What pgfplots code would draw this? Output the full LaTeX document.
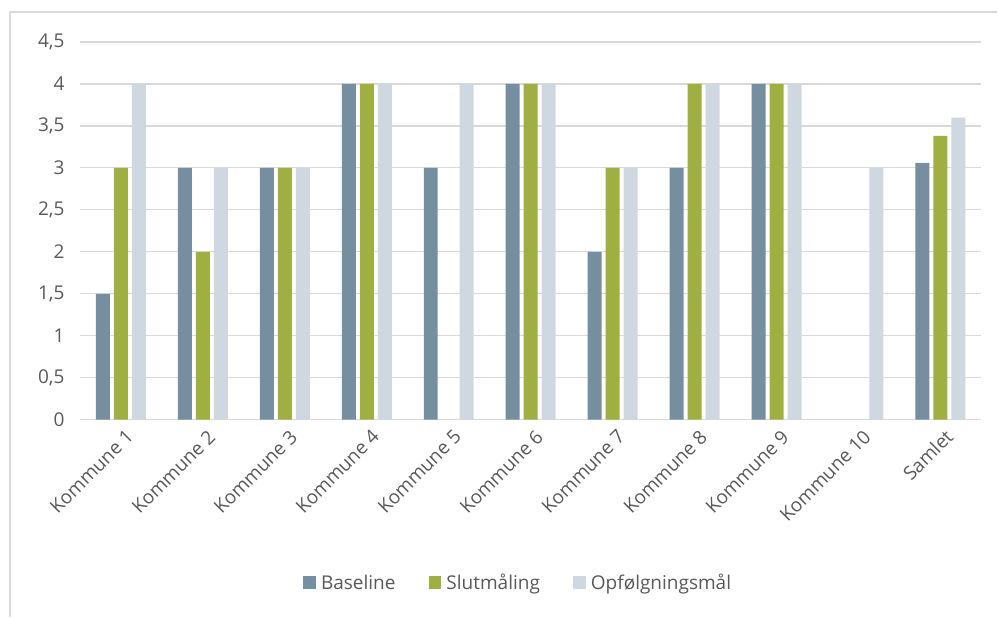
\documentclass[border=0pt]{standalone}
\usepackage{pgfplots}
\pgfplotsset{compat=1.18}
\usepackage{fontspec}
\setmainfont{Open Sans}
\definecolor{cBase}{HTML}{758FA0}
\definecolor{cSlut}{HTML}{9FAF42}
\definecolor{cOpf}{HTML}{CFD8E0}
\definecolor{cGrid}{HTML}{D9D9D9}
\definecolor{cText}{HTML}{595959}
\begin{document}
\begin{tikzpicture}
\path (0pt,0pt) rectangle (998pt,617pt);
\draw[cGrid,line width=1.2pt] (10pt,0pt) -- (10pt,605pt) -- (998pt,605pt);
\begin{axis}[
  at={(80pt,197pt)}, anchor=south west,
  scale only axis, width=902pt, height=378pt,
  ybar=4pt, bar width=14pt,
  xmin=-0.5, xmax=10.5, ymin=0, ymax=4.5,
  ytick={0,0.5,...,4.5},
  xtick={0,...,10},
  xticklabels={Kommune 1,Kommune 2,Kommune 3,Kommune 4,Kommune 5,Kommune 6,Kommune 7,Kommune 8,Kommune 9,Kommune 10,Samlet},
  axis line style={draw=none},
  major tick length=0pt,
  ymajorgrids, grid style={cGrid,line width=1.2pt},
  /pgf/number format/use comma,
  /pgf/number format/assume math mode=true,
  tick label style={font=\fontsize{19}{22}\selectfont, text=cText},
  yticklabel style={xshift=-12pt},
  xticklabel style={rotate=45, anchor=east, xshift=0pt, yshift=-16pt},
  legend columns=3,
  legend style={draw=none, at={(0.486,-0.431)}, anchor=center, font=\fontsize{19}{22}\selectfont, text=cText,
    /tikz/every even column/.append style={column sep=31pt}},
  legend image code/.code={\fill[#1] (0pt,-6.5pt) rectangle (13pt,6.5pt); \path (0pt,0pt) -- (16pt,0pt);},
]
\addplot[fill=cBase, draw=none] coordinates {(0,1.5) (1,3) (2,3) (3,4) (4,3) (5,4) (6,2) (7,3) (8,4) (10,3.06)};
\addplot[fill=cSlut, draw=none] coordinates {(0,3) (1,2) (2,3) (3,4) (5,4) (6,3) (7,4) (8,4) (10,3.38)};
\addplot[fill=cOpf, draw=none] coordinates {(0,4) (1,3) (2,3) (3,4) (4,4) (5,4) (6,3) (7,4) (8,4) (9,3) (10,3.6)};
\legend{Baseline,Slutmåling,Opfølgningsmål}
\end{axis}
\end{tikzpicture}
\end{document}
